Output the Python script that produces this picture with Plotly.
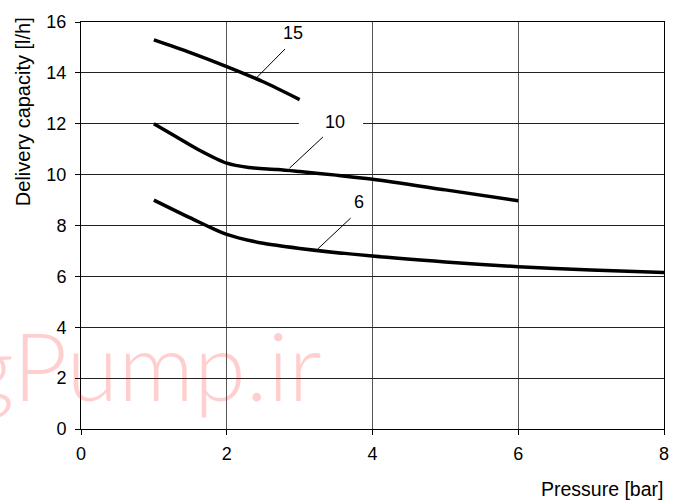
import plotly.graph_objects as go

# Data
x15 = [1.0, 1.5, 2.0, 2.5, 3.0]
y15 = [15.3, 14.8, 14.25, 13.65, 12.95]

x10 = [1.0, 1.3, 1.6, 2.0, 2.3, 2.7, 3.0, 3.5, 4.0, 5.0, 6.0]
y10 = [12.0, 11.5, 11.0, 10.45, 10.28, 10.2, 10.12, 9.98, 9.82, 9.4, 8.97]

x6 = [1.0, 1.5, 2.0, 2.5, 3.0, 4.0, 5.0, 6.0, 7.0, 8.0]
y6 = [9.0, 8.3, 7.65, 7.3, 7.1, 6.8, 6.57, 6.38, 6.25, 6.15]

series_names = ["15", "10", "6"]
x_ticks = [0, 2, 4, 6, 8]
y_ticks = [0, 2, 4, 6, 8, 10, 12, 14, 16]

# label positions (text x, text y, leader start x, y, leader end x, y)
label_pos = {
    "15": (2.91, 15.58, 2.80, 14.94, 2.41, 13.81),
    "10": (3.48, 12.07, 3.32, 11.48, 2.86, 10.25),
    "6": (3.82, 8.92, 3.70, 8.29, 3.25, 7.08),
}

FONT = "Liberation Sans, Arial, Helvetica, sans-serif"

fig = go.Figure()
for xs, ys, nm in [(x15, y15, "15"), (x10, y10, "10"), (x6, y6, "6")]:
    fig.add_trace(go.Scatter(x=xs, y=ys, mode="lines", name=nm,
                             line=dict(color="black", width=3.5, shape="spline", smoothing=0.8),
                             showlegend=False, hoverinfo="skip"))

for nm in series_names:
    tx, ty, lx0, ly0, lx1, ly1 = label_pos[nm]
    fig.add_trace(go.Scatter(x=[lx0, lx1], y=[ly0, ly1], mode="lines",
                             line=dict(color="black", width=1), showlegend=False, hoverinfo="skip"))
    fig.add_annotation(x=tx, y=ty, text=nm, showarrow=False,
                       font=dict(family=FONT, size=18, color="black"))

# white gap behind label "10" on the gridline
fig.add_shape(type="rect", x0=2.99, x1=3.87, y0=11.75, y1=12.25, layer="between",
              fillcolor="white", line=dict(width=0))

# watermark
fig.add_annotation(xref="paper", yref="paper", x=0.4175, y=0.158, xanchor="right", yanchor="middle",
                   text="gPump.ir", showarrow=False,
                   font=dict(family="Lato, Roboto, Arial, sans-serif", size=94, weight=300,
                             color="rgba(255,0,0,0.19)"))

# axis titles
fig.add_annotation(xref="paper", yref="paper", x=1.002, y=-0.148, xanchor="right", yanchor="middle",
                   text="Pressure [bar]", showarrow=False,
                   font=dict(family=FONT, size=19.5, color="black"))
fig.add_annotation(xref="paper", yref="paper", x=-0.0995, y=1.018, xanchor="center", yanchor="top",
                   text="Delivery capacity [l/h]", textangle=-90, showarrow=False,
                   font=dict(family=FONT, size=20, color="black"))

fig.update_xaxes(range=[0, 8], tickvals=x_ticks, ticktext=[str(v) for v in x_ticks],
                 showgrid=True, gridcolor="#555", gridwidth=1,
                 showline=True, linecolor="black", linewidth=1, mirror=True,
                 ticks="outside", ticklen=5, tickcolor="black", ticklabelstandoff=3,
                 tickfont=dict(family=FONT, size=18, color="black"), zeroline=False)
fig.update_yaxes(range=[0, 16], tickvals=y_ticks, ticktext=[str(v) for v in y_ticks],
                 showgrid=True, gridcolor="#222", gridwidth=1,
                 showline=True, linecolor="black", linewidth=1, mirror=True,
                 ticks="outside", ticklen=5, tickcolor="black", ticklabelstandoff=5,
                 tickfont=dict(family=FONT, size=18, color="black"), zeroline=False)

fig.update_layout(width=683, height=503, autosize=False,
                  margin=dict(l=81, r=19, t=18, b=74),
                  plot_bgcolor="white", paper_bgcolor="white")

fig.write_html("out.html", config={"displayModeBar": False},
               post_script="document.body.style.margin='0px';document.body.style.overflow='hidden';")
